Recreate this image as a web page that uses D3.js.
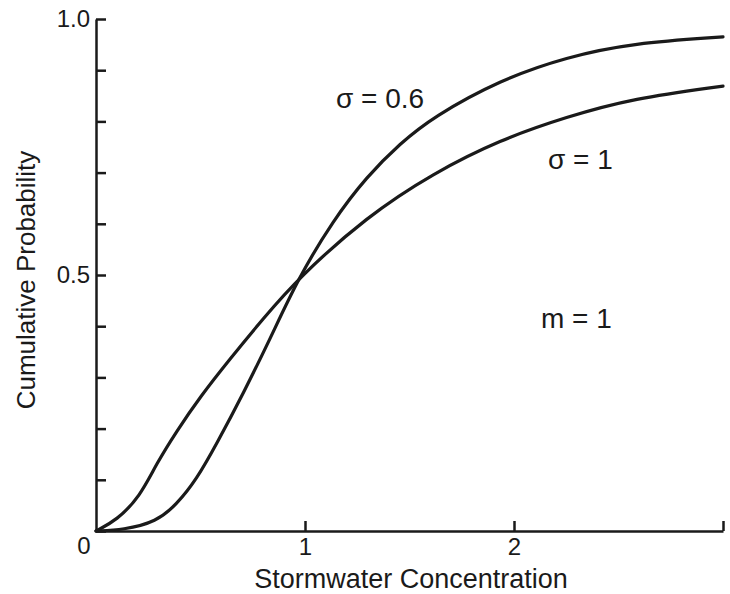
<!DOCTYPE html>
<html>
<head>
<meta charset="utf-8">
<script src="https://cdn.jsdelivr.net/npm/d3@7"></script>
<style>
  html, body { margin: 0; padding: 0; background: #fff; }
  svg text { font-family: "Liberation Sans", Arial, sans-serif; fill: #1a1a1a; }
</style>
</head>
<body>
<div id="chart"></div>
<script>
// values
const concSigma06 = [0, 0.13, 0.29, 0.386, 0.48, 0.577, 0.705, 0.833, 0.968, 1.135, 1.295, 1.455, 1.614, 1.933, 2.252, 2.57, 3.0]
const probSigma06 = [0, 0.002, 0.018, 0.052, 0.100, 0.170, 0.269, 0.375, 0.494, 0.607, 0.692, 0.757, 0.809, 0.881, 0.926, 0.953, 0.965]
const concSigma1 = [0, 0.099, 0.21, 0.29, 0.386, 0.498, 0.641, 0.80, 0.968, 1.295, 1.614, 1.933, 2.252, 2.57, 3.0]
const probSigma1 = [0, 0.021, 0.067, 0.132, 0.195, 0.262, 0.336, 0.415, 0.494, 0.614, 0.699, 0.764, 0.809, 0.845, 0.869]
const yTicks = [0, 0.1, 0.2, 0.3, 0.4, 0.5, 0.6, 0.7, 0.8, 0.9, 1.0]
const xTicks = [1, 2, 3]
const notes = [
  { text: 'σ = 0.6', x: 336, y: 108 },
  { text: 'σ = 1', x: 548, y: 169 },
  { text: 'm = 1', x: 541, y: 328 }
]

const width = 730
const height = 594
const ink = '#1a1a1a'

const svg = d3.select('#chart')
  .append('svg')
  .attr('width', width)
  .attr('height', height)

const x = d3.scaleLinear().domain([0, 3]).range([96, 723])
const y = d3.scaleLinear().domain([0, 1]).range([531, 19])

// y axis, ticks pointing inward
const yAxis = svg.append('g')
  .attr('transform', `translate(${x(0)},0)`)
  .call(d3.axisLeft(y)
    .tickValues(yTicks)
    .tickSizeInner(-10)
    .tickSizeOuter(0)
    .tickPadding(6)
    .tickFormat(d => (d === 0.5 ? '0.5' : d === 1 ? '1.0' : '')))
yAxis.select('.domain').attr('stroke', ink).attr('stroke-width', 2.5)
yAxis.selectAll('.tick line').attr('stroke', ink).attr('stroke-width', 2.5)
yAxis.selectAll('.tick text').attr('font-size', 24).attr('fill', ink)

// x axis, ticks pointing up
const xAxis = svg.append('g')
  .attr('transform', `translate(0,${y(0)})`)
  .call(d3.axisBottom(x)
    .tickValues(xTicks)
    .tickSizeInner(-10)
    .tickSizeOuter(0)
    .tickPadding(7)
    .tickFormat(d => (d === 3 ? '' : d)))
xAxis.select('.domain').attr('stroke', ink).attr('stroke-width', 2.5)
xAxis.selectAll('.tick line').attr('stroke', ink).attr('stroke-width', 2.5)
xAxis.selectAll('.tick text').attr('font-size', 24).attr('fill', ink)

// shared origin label
svg.append('text')
  .attr('x', 84)
  .attr('y', 554)
  .attr('text-anchor', 'middle')
  .attr('font-size', 24)
  .text('0')

// axis titles
svg.append('text')
  .attr('x', 411)
  .attr('y', 588)
  .attr('text-anchor', 'middle')
  .attr('font-size', 27)
  .text('Stormwater Concentration')

svg.append('text')
  .attr('transform', 'translate(35,280) rotate(-90)')
  .attr('text-anchor', 'middle')
  .attr('font-size', 26)
  .text('Cumulative Probability')

// curves
const line = d3.line()
  .x(d => x(d[0]))
  .y(d => y(d[1]))
  .curve(d3.curveBasis)

const series = [
  d3.zip(concSigma06, probSigma06),
  d3.zip(concSigma1, probSigma1)
]

svg.append('g')
  .selectAll('path')
  .data(series)
  .join('path')
  .attr('d', line)
  .attr('fill', 'none')
  .attr('stroke', ink)
  .attr('stroke-width', 3.2)
  .attr('stroke-linecap', 'round')

// annotations
svg.append('g')
  .selectAll('text')
  .data(notes)
  .join('text')
  .attr('x', d => d.x)
  .attr('y', d => d.y)
  .attr('font-size', 28)
  .text(d => d.text)
</script>
</body>
</html>
